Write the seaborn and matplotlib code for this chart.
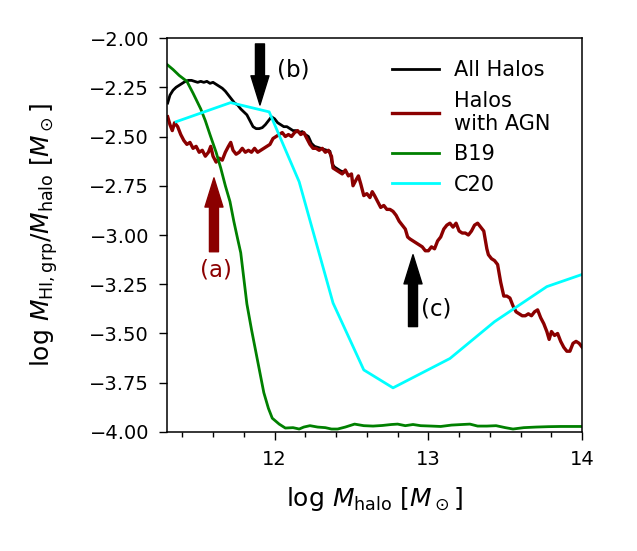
import numpy as np
import pandas as pd
import matplotlib
matplotlib.use("Agg")
import matplotlib.pyplot as plt
from matplotlib.ticker import AutoMinorLocator, MultipleLocator
import seaborn as sns

# --- data ------------------------------------------------------------------
# All Halos (black); beyond ~12.2 it runs underneath the AGN curve
all_x = [11.305, 11.32, 11.34, 11.36, 11.38, 11.40, 11.42, 11.44, 11.46, 11.48,
         11.50, 11.52, 11.54, 11.56, 11.58, 11.60, 11.62, 11.64, 11.66, 11.68,
         11.70, 11.72, 11.74, 11.76, 11.78, 11.80, 11.82, 11.84, 11.86, 11.88,
         11.90, 11.92, 11.94, 11.96, 11.98, 12.00, 12.02, 12.04, 12.06, 12.08,
         12.10, 12.12, 12.14, 12.16, 12.18, 12.20, 12.22, 12.24, 12.26, 12.28,
         12.30, 12.32, 12.34, 12.36, 12.375, 12.39, 12.41, 12.43, 12.45]
all_y = [-2.33, -2.29, -2.265, -2.25, -2.24, -2.23, -2.22, -2.215, -2.215, -2.22,
         -2.225, -2.22, -2.225, -2.22, -2.23, -2.225, -2.235, -2.245, -2.255, -2.27,
         -2.29, -2.31, -2.33, -2.34, -2.36, -2.375, -2.39, -2.42, -2.45, -2.46,
         -2.46, -2.455, -2.44, -2.42, -2.40, -2.41, -2.43, -2.44, -2.45, -2.45,
         -2.46, -2.47, -2.47, -2.48, -2.475, -2.49, -2.50, -2.535, -2.55, -2.555,
         -2.56, -2.565, -2.57, -2.575, -2.64, -2.655, -2.665, -2.675, -2.68]

# Halos with AGN (dark red)
agn_x = [11.305, 11.32, 11.335, 11.35, 11.37, 11.39, 11.41, 11.43, 11.45, 11.47,
         11.49, 11.51, 11.53, 11.55, 11.57, 11.585, 11.60, 11.62, 11.64, 11.66,
         11.68, 11.70, 11.715, 11.73, 11.75, 11.77, 11.79, 11.81, 11.83, 11.85,
         11.87, 11.89, 11.91, 11.93, 11.95, 11.97, 11.99, 12.01, 12.03, 12.05,
         12.07, 12.09, 12.11, 12.13, 12.15, 12.17, 12.19, 12.21, 12.23, 12.25,
         12.27, 12.29, 12.31, 12.33, 12.35, 12.37, 12.38, 12.40, 12.42, 12.44,
         12.46, 12.48, 12.50, 12.51, 12.53, 12.545, 12.56, 12.58, 12.60, 12.62,
         12.635, 12.65, 12.67, 12.69, 12.71, 12.73, 12.75, 12.77, 12.79, 12.81,
         12.83, 12.85, 12.865, 12.88, 12.90, 12.92, 12.94, 12.96, 12.98, 13.00,
         13.02, 13.04, 13.06, 13.08, 13.10, 13.12, 13.14, 13.16, 13.18, 13.20,
         13.22, 13.24, 13.26, 13.28, 13.30, 13.32, 13.34, 13.36, 13.38, 13.39,
         13.41, 13.43, 13.45, 13.47, 13.49, 13.51, 13.53, 13.55, 13.57, 13.59,
         13.61, 13.63, 13.65, 13.67, 13.69, 13.71, 13.73, 13.75, 13.77, 13.785,
         13.80, 13.82, 13.84, 13.86, 13.88, 13.90, 13.92, 13.94, 13.96, 13.98,
         14.00]
agn_y = [-2.40, -2.44, -2.47, -2.43, -2.45, -2.49, -2.52, -2.54, -2.53, -2.56,
         -2.55, -2.58, -2.57, -2.60, -2.58, -2.55, -2.60, -2.63, -2.61, -2.62,
         -2.58, -2.55, -2.53, -2.57, -2.59, -2.58, -2.56, -2.58, -2.57, -2.58,
         -2.56, -2.58, -2.57, -2.56, -2.55, -2.54, -2.51, -2.50, -2.49, -2.48,
         -2.50, -2.49, -2.50, -2.48, -2.47, -2.49, -2.48, -2.51, -2.54, -2.56,
         -2.56, -2.57, -2.56, -2.58, -2.57, -2.60, -2.66, -2.67, -2.68, -2.69,
         -2.67, -2.70, -2.69, -2.75, -2.72, -2.70, -2.74, -2.80, -2.79, -2.81,
         -2.78, -2.80, -2.83, -2.86, -2.85, -2.87, -2.87, -2.88, -2.90, -2.93,
         -2.95, -2.97, -3.01, -3.02, -3.03, -3.04, -3.05, -3.06, -3.08, -3.08,
         -3.06, -3.07, -3.03, -3.01, -2.97, -2.95, -2.94, -2.96, -2.94, -2.98,
         -2.99, -2.99, -3.00, -2.98, -2.95, -2.94, -2.96, -2.98, -3.07, -3.10,
         -3.12, -3.13, -3.15, -3.24, -3.31, -3.31, -3.32, -3.36, -3.39, -3.40,
         -3.41, -3.41, -3.40, -3.41, -3.39, -3.38, -3.42, -3.45, -3.49, -3.53,
         -3.49, -3.51, -3.50, -3.54, -3.57, -3.59, -3.59, -3.55, -3.54, -3.55,
         -3.57]

# B19 (green)
b19_x = [11.305, 11.34, 11.38, 11.43, 11.47, 11.52, 11.55, 11.58, 11.62, 11.65,
         11.68, 11.71, 11.735, 11.76, 11.78, 11.80, 11.82, 11.85, 11.88, 11.91,
         11.93, 11.96, 11.985, 12.03, 12.07, 12.12, 12.16, 12.19, 12.23, 12.28,
         12.33, 12.37, 12.41, 12.46, 12.52, 12.58, 12.64, 12.70, 12.76, 12.80,
         12.85, 12.90, 12.95, 13.02, 13.08, 13.15, 13.22, 13.27, 13.32, 13.38,
         13.44, 13.50, 13.55, 13.62, 13.70, 13.78, 13.86, 13.93, 14.00]
b19_y = [-2.137, -2.16, -2.19, -2.22, -2.28, -2.36, -2.42, -2.49, -2.58, -2.66,
         -2.75, -2.83, -2.93, -3.02, -3.09, -3.22, -3.35, -3.48, -3.60, -3.72,
         -3.80, -3.88, -3.93, -3.96, -3.98, -3.978, -3.985, -3.975, -3.968, -3.975,
         -3.978, -3.985, -3.985, -3.975, -3.96, -3.968, -3.97, -3.967, -3.962, -3.96,
         -3.968, -3.962, -3.968, -3.97, -3.972, -3.965, -3.962, -3.96, -3.97, -3.97,
         -3.968, -3.978, -3.985, -3.978, -3.975, -3.973, -3.972, -3.972, -3.972]

# C20 (cyan)
c20_x = [11.36, 11.714, 11.965, 12.16, 12.38, 12.58, 12.77, 13.14, 13.43, 13.77, 14.0]
c20_y = [-2.425, -2.328, -2.375, -2.73, -3.345, -3.685, -3.776, -3.627, -3.44, -3.262, -3.20]

# --- figure ----------------------------------------------------------------
fig, ax = plt.subplots(figsize=(6.37, 5.51), dpi=100)
fig.subplots_adjust(left=0.262, right=0.914, top=0.931, bottom=0.216)

sns.lineplot(x=all_x, y=all_y, ax=ax, color="black", lw=2, sort=False,
             estimator=None, label="All Halos")
sns.lineplot(x=agn_x, y=agn_y, ax=ax, color="darkred", lw=2.4, sort=False,
             estimator=None, label="Halos\nwith AGN")
sns.lineplot(x=b19_x, y=b19_y, ax=ax, color="green", lw=2, sort=False,
             estimator=None, label="B19")
sns.lineplot(x=c20_x, y=c20_y, ax=ax, color="cyan", lw=2, sort=False,
             estimator=None, label="C20")

# arrows + labels
arr = dict(width=6.5, headwidth=13, headlength=21, shrink=0.0)
ax.annotate("", xy=(11.606, -2.71), xytext=(11.606, -3.085),
            arrowprops=dict(facecolor="darkred", edgecolor="darkred", **arr))
ax.text(11.62, -3.18, "(a)", color="darkred", fontsize=16.5, ha="center", va="center")
ax.annotate("", xy=(11.905, -2.34), xytext=(11.905, -2.03),
            arrowprops=dict(facecolor="black", edgecolor="black", **arr))
ax.text(12.015, -2.16, "(b)", color="black", fontsize=16.5, ha="left", va="center")
ax.annotate("", xy=(12.90, -3.10), xytext=(12.90, -3.465),
            arrowprops=dict(facecolor="black", edgecolor="black", **arr))
ax.text(12.955, -3.375, "(c)", color="black", fontsize=16.5, ha="left", va="center")

ax.set_xlim(11.3, 14.0)
ax.set_ylim(-4.0, -2.0)
ax.xaxis.set_major_locator(MultipleLocator(1))
ax.xaxis.set_minor_locator(AutoMinorLocator(5))
ax.yaxis.set_major_locator(MultipleLocator(0.25))
ax.tick_params(axis="both", which="major", labelsize=14, length=5.8, width=1.0, pad=7)
ax.tick_params(axis="x", which="minor", length=3.6, width=1.0)
for s in ax.spines.values():
    s.set_linewidth(1.1)

ax.set_xlabel(r"log $M_{\rm halo}$ [$M_\odot$]", fontsize=18)
ax.set_ylabel(r"log $M_{\rm HI,grp}/M_{\rm halo}$ [$M_\odot$]", fontsize=18)
ax.xaxis.set_label_coords(0.5, -0.135)
ax.yaxis.set_label_coords(-0.258, 0.5)

ax.legend(frameon=False, loc="upper right", fontsize=15, handlelength=2.25,
          handletextpad=0.7, borderaxespad=0, bbox_to_anchor=(0.943, 0.965))

fig.savefig("out.png", dpi=100)
